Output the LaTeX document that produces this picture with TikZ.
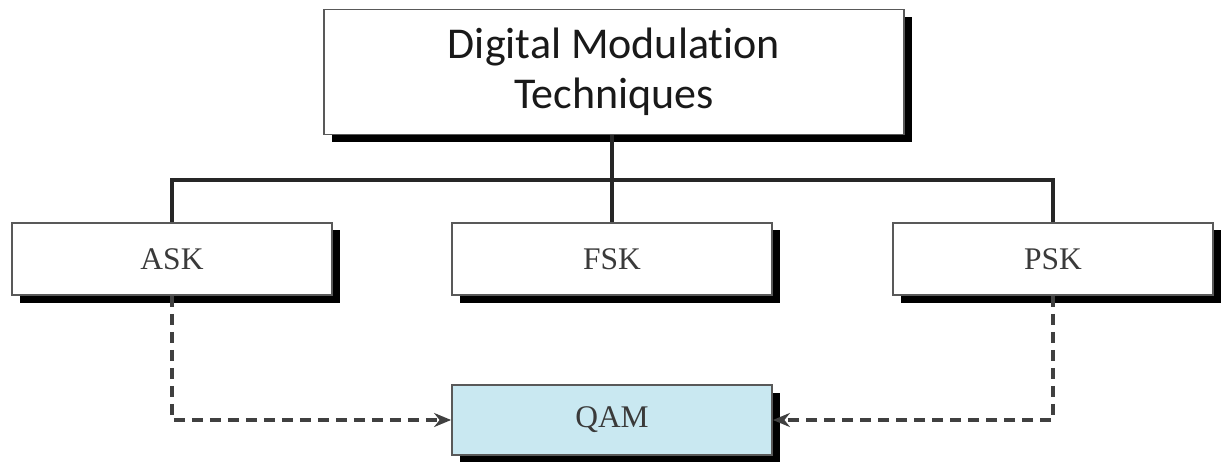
\documentclass[tikz,border=0pt]{standalone}
\usepackage{fontspec}
\setmainfont{Liberation Serif}
\newfontfamily\headfont[Ligatures=NoCommon]{Carlito}
\usetikzlibrary{arrows.meta,shadows}
\definecolor{qamblue}{HTML}{C9E8F1}
\definecolor{inkgray}{HTML}{3A3A3A}
\tikzset{
  box/.style={draw=black!65, line width=1.8pt, fill=white, minimum height=72pt,
    text=inkgray, font=\fontsize{31.5}{36}\selectfont,
    drop shadow={shadow xshift=7.5pt, shadow yshift=-7.5pt, fill=black, opacity=1}},
  link/.style={line width=3.2pt, black!85},
  dlink/.style={line width=3.2pt, black!75, dash pattern=on 11pt off 7pt,
    -{Stealth[length=17pt,width=14pt]}}
}
\begin{document}
\begin{tikzpicture}[x=1pt,y=-1pt]
\useasboundingbox (0,0) rectangle (1222,462);
% top node
\node[box, minimum width=580pt, minimum height=125pt, font=\headfont\fontsize{44}{50}\selectfont,
  align=center, text=black!90] (top) at (614,72) {Digital Modulation\\Techniques};
% second row
\node[box, minimum width=320pt] (ask) at (172,259) {ASK};
\node[box, minimum width=320pt] (fsk) at (612,259) {FSK};
\node[box, minimum width=320pt] (psk) at (1053,259) {PSK};
% result
\node[box, minimum width=320pt, minimum height=70pt, fill=qamblue] (qam) at (612,420) {QAM};
% tree connectors
\coordinate (bus) at (612,180);
\draw[link] (top.south -| bus) -- (bus);
\draw[link] (ask.north) |- (bus) -| (psk.north);
\draw[link] (bus) -- (fsk.north);
% dashed feeds into QAM
\draw[dlink] (ask.south) |- (qam.west);
\draw[dlink] (psk.south) |- (qam.east);
\end{tikzpicture}
\end{document}
